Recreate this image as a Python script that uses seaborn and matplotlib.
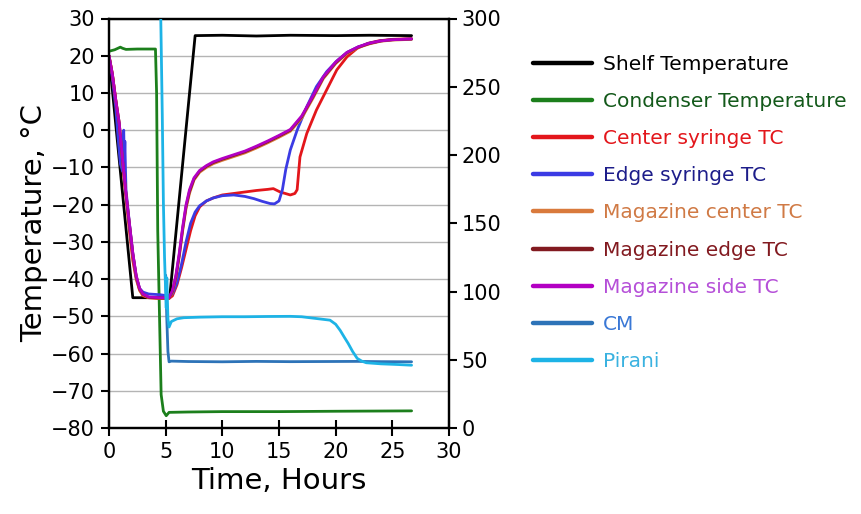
import matplotlib
matplotlib.use("Agg")
import matplotlib.pyplot as plt
from matplotlib.lines import Line2D
import seaborn as sns

# ---- series: time (hours) and temperature (°C) ----
shelf_t = [0, 2.1, 5.35, 7.6, 10, 13, 16, 20, 23, 26.7]
shelf_T = [20, -45, -45, 25.4, 25.5, 25.3, 25.5, 25.4, 25.5, 25.4]

cond_t = [0, 0.5, 1.0, 1.2, 1.5, 2.5, 4.1, 4.2, 4.3, 4.6, 4.8, 5.05, 5.3, 7, 10, 15, 20, 26.7]
cond_T = [21.2, 21.6, 22.3, 22.0, 21.7, 21.8, 21.8, 10, -27, -71, -75.5, -76.7, -75.8, -75.7, -75.6, -75.6, -75.5, -75.4]

center_t = [0, 0.3, 0.6, 0.9, 1.2, 1.5, 1.8, 2.1, 2.4, 2.7, 3.0, 3.5, 4.5, 5.3, 5.6, 6.0, 6.4,
            6.8, 7.2, 7.6, 8.0, 8.6, 9.2, 10, 11, 12, 13, 14, 14.5, 15.1, 16.0, 16.4, 16.6,
            16.85, 17.45, 18.3, 19.2, 20.1, 21.0, 21.9, 22.8, 23.8, 25, 26.7]
center_T = [20, 15, 8, 1, -9, -18, -27, -35, -40, -43, -44.5, -45, -45.2, -45.2, -44.5, -41.5, -37,
            -32, -27, -23, -20.6, -19, -18.2, -17.4, -17, -16.6, -16.2, -15.9, -15.7, -16.6, -17.4, -17, -16,
            -7.2, -0.9, 5.4, 10.8, 16.2, 19.7, 22, 23.3, 24, 24.4, 24.6]

edge_t = [0, 0.3, 0.6, 0.8, 1.0, 1.2, 1.25, 1.3, 1.35, 1.4, 1.45, 1.5, 1.8, 2.1, 2.4, 2.7, 3.0,
          3.5, 4.5, 5.2, 5.6, 6.0, 6.4, 6.8, 7.2, 7.6, 8.0, 8.6, 9.2, 10, 11, 12, 12.8, 13.5,
          14.2, 14.6, 15.0, 15.3, 15.6, 16.0, 16.6, 17.45, 18.3, 19.2, 20.1, 21, 22, 23, 24, 25, 26.7]
edge_T = [20, 14, 6, -2, -9, -11, -2, 0, -9, -3, -10, -16, -25, -33, -39.5, -42.5, -43.5,
          -44, -44.2, -44.5, -44, -41, -36, -30, -25, -22, -20.3, -19, -18.2, -17.6, -17.4, -17.8, -18.4, -19.1,
          -19.7, -19.8, -19, -16, -10.5, -5.3, 0, 6.3, 11.7, 15.7, 18.6, 20.9, 22.4, 23.4, 24, 24.3, 24.5]

mag_t = [0, 0.3, 0.6, 0.9, 1.2, 1.5, 1.8, 2.1, 2.4, 2.7, 3.0, 3.5, 4.5, 5.3, 5.6, 5.9, 6.2,
         6.5, 6.8, 7.1, 7.5, 8.0, 8.6, 9.2, 10, 11, 12, 13, 14, 15, 16, 17, 18, 18.9, 20,
         21, 22, 23, 24, 25, 26.7]
mag_side_T = [20, 15, 8, 2, -8, -17, -25, -33, -39, -42.5, -44, -44.8, -45, -45, -43, -39, -33,
              -26, -20, -16, -12.8, -10.8, -9.5, -8.5, -7.6, -6.6, -5.6, -4.3, -2.9, -1.4, 0.2, 3.8, 9.2, 14.3, 18.3,
              20.9, 22.4, 23.4, 24, 24.3, 24.5]
mag_center_T = [20, 15, 8, 2, -8.5, -17.5, -25.5, -33.5, -39.5, -43, -44.3, -45, -45.2, -45.2, -43.6, -39.8, -34,
                -27, -21, -17, -13.4, -11.3, -10, -9, -8.1, -7.1, -6.1, -4.8, -3.4, -1.9, -0.3, 3.2, 8.6, 13.8, 17.9,
                20.6, 22.2, 23.2, 23.9, 24.2, 24.4]
mag_edge_T = [20, 15, 8, 2, -8.2, -17.2, -25.2, -33.2, -39.2, -42.7, -44.1, -44.9, -45.1, -45.1, -43.3, -39.4, -33.5,
              -26.5, -20.5, -16.5, -13.1, -11, -9.7, -8.7, -7.8, -6.8, -5.8, -4.5, -3.1, -1.6, 0, 3.6, 9, 14.1, 18.1,
              20.8, 22.3, 23.3, 24, 24.3, 24.5]

# ---- pressure gauges (right axis) ----
cm_t = [5.0, 5.1, 5.2, 5.3, 5.5, 7, 10, 13, 16, 19, 22, 24, 26.7]
cm_P = [112, 80, 56, 48.5, 49, 48.7, 48.5, 48.8, 48.6, 48.7, 48.8, 48.6, 48.5]

pirani_t = [4.55, 4.7, 4.8, 4.9, 5.0, 5.05, 5.1, 5.2, 5.3, 5.5, 6.0, 6.6, 8, 10, 12, 14, 16, 17, 18,
            19.5, 20.0, 20.4, 20.8, 21.1, 21.5, 21.9, 22.3, 22.7, 24, 25.5, 26.7]
pirani_P = [310, 230, 165, 125, 100, 88, 110, 80, 74, 78, 80, 80.8, 81.2, 81.5, 81.5, 81.7, 81.8, 81.5, 80.5,
            79, 76, 71.5, 66, 62, 56, 51, 49, 47.8, 47, 46.5, 46]

x_ticks = [0, 5, 10, 15, 20, 25, 30]
t_ticks = [-80, -70, -60, -50, -40, -30, -20, -10, 0, 10, 20, 30]
p_ticks = [0, 50, 100, 150, 200, 250, 300]

sns.set_theme(style="white")
plt.rcParams["font.family"] = ["DejaVu Sans"]

fig = plt.figure(figsize=(8.61, 5.14), dpi=100)
ax = fig.add_axes([109 / 861, 1 - 428 / 514, 340 / 861, 409.5 / 514])
ax2 = ax.twinx()

temp_series = [
    ("Shelf Temperature", shelf_t, shelf_T, "#000000", "#000000", 3),
    ("Condenser Temperature", cond_t, cond_T, "#1c7f1c", "#13591a", 3),
    ("Center syringe TC", center_t, center_T, "#e3161b", "#e3161b", 4),
    ("Edge syringe TC", edge_t, edge_T, "#3b3be4", "#1d1d8a", 5),
    ("Magazine center TC", mag_t, mag_center_T, "#d97a3c", "#d07a45", 6),
    ("Magazine edge TC", mag_t, mag_edge_T, "#821a20", "#821a20", 7),
    ("Magazine side TC", mag_t, mag_side_T, "#b300c3", "#b54fd8", 8),
]
pressure_series = [
    ("CM", cm_t, cm_P, "#2d73b8", "#3a78d6", 3),
    ("Pirani", pirani_t, pirani_P, "#1db3e6", "#3ab2e0", 4),
]

handles, labels, text_colors = [], [], []
for name, tx, ty, col, tcol, z in temp_series:
    sns.lineplot(x=tx, y=ty, ax=ax, color=col, linewidth=2.0, estimator=None,
                 sort=False, legend=False, zorder=z)
    handles.append(ax.lines[-1]); labels.append(name); text_colors.append(tcol)
for name, tx, ty, col, tcol, z in pressure_series:
    sns.lineplot(x=tx, y=ty, ax=ax2, color=col, linewidth=2.0, estimator=None,
                 sort=False, legend=False, zorder=z)
    handles.append(ax2.lines[-1]); labels.append(name); text_colors.append(tcol)

ax.set_xlim(0, 30)
ax.set_ylim(-80, 30)
ax2.set_ylim(0, 300)
ax.set_xticks(x_ticks)
ax.set_yticks(t_ticks)
ax2.set_yticks(p_ticks)

ax.yaxis.grid(True, color="#b4b4b4", linewidth=1.0)
ax.xaxis.grid(False)
ax.set_axisbelow(True)

for a in (ax, ax2):
    for sp in a.spines.values():
        sp.set_color("black")
        sp.set_linewidth(1.6)

ax.tick_params(axis="y", direction="out", length=6, width=1.5, labelsize=15, colors="black", pad=4,
               left=True)
ax.tick_params(axis="x", direction="inout", length=12, width=1.5, labelsize=15, colors="black", pad=4,
               bottom=True)
ax2.tick_params(axis="y", direction="out", length=6, width=1.5, labelsize=15, colors="black", pad=3,
                right=True)

ax.set_xlabel("Time, Hours", fontsize=21, labelpad=4, color="black")
ax.set_ylabel("Temperature, °C", fontsize=21, labelpad=2, color="black")
ax2.set_ylabel("")

leg_handles = [Line2D([], [], color=h.get_color(), linewidth=3.2) for h in handles]
fig.legend(leg_handles, labels, loc="upper left", bbox_to_anchor=(533 / 861, 1 - 55 / 514),
           frameon=False, fontsize=14.5, handlelength=2.93, handletextpad=0.55,
           labelspacing=0.9, borderpad=0, borderaxespad=0, labelcolor=text_colors)

fig.savefig("out.png", dpi=100)
